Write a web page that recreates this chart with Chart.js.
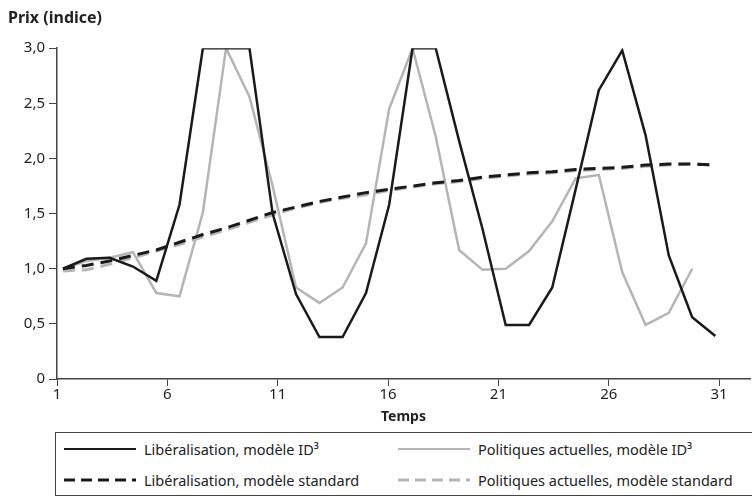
<!DOCTYPE html>
<html lang="fr">
<head>
<meta charset="UTF-8">
<title>Prix (indice)</title>
<style>
  body { margin: 0; background: #fff; font-family: "Noto Sans", sans-serif; }
  #wrap { position: relative; width: 752px; height: 499px; overflow: hidden; }
  #chartBox { position: absolute; left: 0; top: 0; width: 752px; height: 425px; }
  #legend {
    position: absolute; left: 55px; top: 432px; width: 700px; height: 64px;
    border: 1px solid #444; box-sizing: border-box;
    font-size: 14.5px; color: #222;
  }
  .item { position: absolute; display: flex; align-items: center; height: 20px; white-space: nowrap; }
  .item svg { margin-right: 8px; }
</style>
</head>
<body>
<div id="wrap">
  <div id="chartBox"><canvas id="prix"></canvas></div>
  <div id="legend"></div>
</div>
<script src="https://cdn.jsdelivr.net/npm/chart.js"></script>
<script>
// temps (position of each simulated period on the time axis)
const temps = [1.27, 2.33, 3.38, 4.44, 5.50, 6.55, 7.61, 8.66, 9.72, 10.77,
               11.83, 12.89, 13.94, 15.00, 16.05, 17.11, 18.16, 19.22, 20.28, 21.33,
               22.39, 23.44, 24.50, 25.55, 26.61, 27.67, 28.72, 29.78, 30.83];

const libId3 = [1.00, 1.09, 1.10, 1.02, 0.89, 1.58, 3.00, 3.00, 3.00, 1.50,
                0.77, 0.38, 0.38, 0.78, 1.58, 3.00, 3.00, 2.16, 1.36, 0.49,
                0.49, 0.83, 1.72, 2.62, 2.98, 2.21, 1.12, 0.56, 0.39];
const polId3 = [1.00, 1.07, 1.10, 1.15, 0.78, 0.75, 1.51, 3.00, 2.56, 1.75,
                0.83, 0.69, 0.83, 1.23, 2.45, 3.00, 2.20, 1.17, 0.99, 1.00,
                1.16, 1.43, 1.82, 1.85, 0.97, 0.49, 0.60, 1.00];
const libStd = [1.00, 1.03, 1.07, 1.12, 1.17, 1.24, 1.31, 1.37, 1.44, 1.51,
                1.56, 1.61, 1.65, 1.69, 1.72, 1.75, 1.78, 1.80, 1.83, 1.85,
                1.87, 1.88, 1.90, 1.91, 1.92, 1.94, 1.95, 1.95, 1.94];
const polStd = [0.98, 0.99, 1.04, 1.10, 1.16, 1.22, 1.29, 1.35, 1.42, 1.49,
                1.55, 1.60, 1.64, 1.67, 1.71, 1.74, 1.77, 1.79, 1.82, 1.84,
                1.86, 1.87, 1.89, 1.90, 1.91, 1.93, 1.94, 1.95, 1.94];

const xTicks = [1, 6, 11, 16, 21, 26, 31];
const labels = ['Libéralisation, modèle ID³', 'Politiques actuelles, modèle ID³',
                'Libéralisation, modèle standard', 'Politiques actuelles, modèle standard'];

const BLACK = '#1a1a1a';
const GREY = '#b5b5b5';
const FONT = '"Noto Sans", sans-serif';

function pts(vals) {
    return vals.map(function (v, i) { return { x: temps[i], y: v }; });
}

const series = [
    { label: labels[0], data: pts(libId3), borderColor: BLACK, borderWidth: 2.5, order: 0 },
    { label: labels[1], data: pts(polId3), borderColor: GREY, borderWidth: 2.5, order: 2 },
    { label: labels[2], data: pts(libStd), borderColor: BLACK, borderWidth: 3, borderDash: [12, 7], order: 1 },
    { label: labels[3], data: pts(polStd), borderColor: GREY, borderWidth: 3, borderDash: [12, 7], order: 3 }
];
series.forEach(function (s) {
    s.pointRadius = 0;
    s.fill = false;
    s.tension = 0;
    s.borderJoinStyle = 'miter';
});

new Chart(document.getElementById('prix'), {
    type: 'line',
    data: { datasets: series },
    options: {
        responsive: true,
        maintainAspectRatio: false,
        animation: false,
        layout: { padding: { left: 8, right: 2, top: 0, bottom: 0 } },
        plugins: {
            legend: { display: false },
            tooltip: { enabled: false },
            title: {
                display: true,
                text: 'Prix (indice)',
                align: 'start',
                color: '#222',
                font: { family: FONT, size: 16, weight: 'bold' },
                padding: { top: 9, bottom: 20 }
            }
        },
        scales: {
            x: {
                type: 'linear',
                min: 1,
                max: 32.4,
                afterBuildTicks: function (scale) {
                    scale.ticks = xTicks.map(function (v) { return { value: v }; });
                },
                afterFit: function (scale) { scale.height = 46; },
                grid: { drawOnChartArea: false, drawTicks: true, tickLength: 7, color: '#444' },
                border: { display: true, color: '#444', width: 1.5 },
                ticks: { color: '#222', font: { family: FONT, size: 15 }, padding: 0, maxRotation: 0 },
                title: {
                    display: true, text: 'Temps', color: '#222',
                    font: { family: FONT, size: 14, weight: 'bold' },
                    padding: { top: 0, bottom: 0 }
                }
            },
            y: {
                min: 0,
                max: 3,
                afterFit: function (scale) { scale.width = 49; },
                grid: { drawOnChartArea: false, drawTicks: true, tickLength: 8, color: '#444' },
                border: { display: true, color: '#444', width: 1.5 },
                ticks: {
                    stepSize: 0.5,
                    color: '#222',
                    padding: 4,
                    font: { family: FONT, size: 15 },
                    callback: function (v) { return v === 0 ? '0' : v.toFixed(1).replace('.', ','); }
                }
            }
        }
    }
});

// legend drawn as HTML below the chart
const legendPos = [
    { left: 8, top: 6, i: 0 },
    { left: 342, top: 6, i: 1 },
    { left: 8, top: 37, i: 2 },
    { left: 342, top: 37, i: 3 }
];
const legend = document.getElementById('legend');
legendPos.forEach(function (p) {
    const s = series[p.i];
    const dash = s.borderDash ? 'stroke-dasharray="11 6"' : '';
    const el = document.createElement('div');
    el.className = 'item';
    el.style.left = p.left + 'px';
    el.style.top = p.top + 'px';
    el.innerHTML = '<svg width="72" height="6"><line x1="0" y1="3" x2="72" y2="3" stroke="' +
        s.borderColor + '" stroke-width="' + (s.borderDash ? 3 : 2.2) + '" ' + dash + '/></svg>' +
        '<span>' + s.label + '</span>';
    legend.appendChild(el);
});
</script>
</body>
</html>
